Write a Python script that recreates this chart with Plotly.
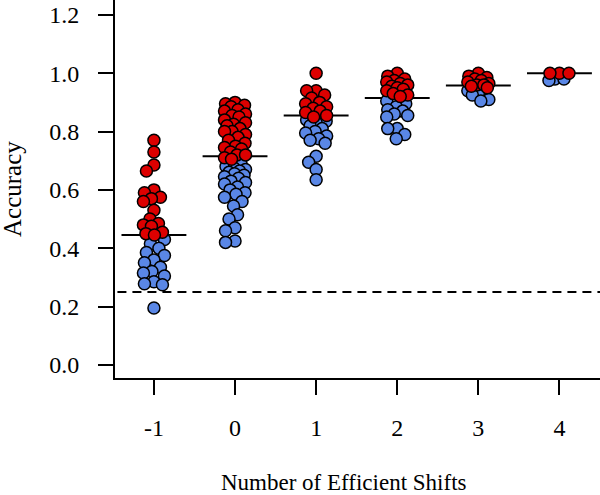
import plotly.graph_objects as go

# ---------------- data ----------------
groups = [-1, 0, 1, 2, 3, 4]
group_labels = ["-1", "0", "1", "2", "3", "4"]

red_values = {
    -1: [0.77, 0.73, 0.685, 0.665, 0.60, 0.59, 0.575, 0.57, 0.56, 0.53, 0.50,
         0.485, 0.48, 0.475, 0.455, 0.45, 0.445],
    0: [0.90, 0.895, 0.89, 0.885, 0.875, 0.87, 0.86, 0.855, 0.85, 0.84, 0.83,
        0.825, 0.82, 0.81, 0.80, 0.80, 0.79, 0.78, 0.77, 0.76, 0.75, 0.745,
        0.74, 0.73, 0.72, 0.72, 0.71, 0.705],
    1: [1.0, 0.94, 0.94, 0.925, 0.915, 0.90, 0.895, 0.885, 0.88, 0.87, 0.865,
        0.855, 0.85],
    2: [1.0, 0.99, 0.98, 0.975, 0.97, 0.965, 0.96, 0.955, 0.95, 0.945, 0.94,
        0.93, 0.925, 0.92],
    3: [1.0, 0.99, 0.985, 0.98, 0.975, 0.97, 0.965, 0.96, 0.96, 0.955, 0.95],
    4: [1.0, 1.0, 1.0],
}
blue_values = {
    -1: [0.43, 0.415, 0.40, 0.385, 0.375, 0.36, 0.35, 0.335, 0.32, 0.315,
         0.305, 0.285, 0.278, 0.275, 0.195],
    0: [0.69, 0.68, 0.675, 0.67, 0.665, 0.66, 0.655, 0.65, 0.645, 0.64, 0.63,
        0.625, 0.62, 0.61, 0.60, 0.59, 0.585, 0.575, 0.56, 0.545, 0.515, 0.50,
        0.47, 0.46, 0.425, 0.42],
    1: [0.845, 0.84, 0.835, 0.83, 0.82, 0.81, 0.80, 0.795, 0.785, 0.775, 0.77,
        0.76, 0.715, 0.695, 0.67, 0.635],
    2: [0.905, 0.895, 0.885, 0.875, 0.87, 0.86, 0.855, 0.85, 0.81, 0.81, 0.79,
        0.775],
    3: [0.95, 0.945, 0.94, 0.935, 0.93, 0.925, 0.91, 0.905],
    4: [0.98, 0.98, 0.975],
}
medians = [0.445, 0.715, 0.855, 0.915, 0.958, 1.0]
chance_level = 0.25

y_ticks = [0.0, 0.2, 0.4, 0.6, 0.8, 1.0, 1.2]
y_tick_text = ["0.0", "0.2", "0.4", "0.6", "0.8", "1.0", "1.2"]

# ---------------- layout geometry ----------------
W, H = 600, 495
M_L, M_R, M_T, M_B = 115, 0, 0, 117
X_RANGE = [-1.48, 4.50]
Y_RANGE = [-0.045, 1.251]
px_per_x = (W - M_L - M_R) / (X_RANGE[1] - X_RANGE[0])
px_per_y = (H - M_T - M_B) / (Y_RANGE[1] - Y_RANGE[0])


def swarm_offsets(vals, half_width_px=10.5, target_px=9.5, step=0.5):
    """Deterministic bounded beeswarm: x offsets (data units) per value."""
    order = sorted(range(len(vals)), key=lambda i: -vals[i])
    n = int(round(2 * half_width_px / step))
    cands = [-half_width_px + k * step for k in range(n + 1)]
    placed = []
    offs = [0.0] * len(vals)
    for i in order:
        y = vals[i] * px_per_y
        best, best_key = 0.0, None
        for c in cands:
            d = target_px
            for (px, py) in placed:
                dd = ((px - c) ** 2 + (py - y) ** 2) ** 0.5
                if dd < d:
                    d = dd
            key = (-round(d, 3), abs(c), c)
            if best_key is None or key < best_key:
                best_key, best = key, c
        placed.append((best, y))
        offs[i] = best / px_per_x
    return offs


bx, by, rx, ry = [], [], [], []
for g in groups:
    b = blue_values[g]
    r = red_values[g]
    offs = swarm_offsets(b + r)
    for k, v in enumerate(b):
        bx.append(g + offs[k])
        by.append(v)
    for k, v in enumerate(r):
        rx.append(g + offs[len(b) + k])
        ry.append(v)

BLUE = "#5A87E6"
RED = "#DD0000"
FONT = "Liberation Serif, Times New Roman, serif"

fig = go.Figure()
fig.add_trace(go.Scatter(
    x=bx, y=by, mode="markers",
    marker=dict(size=12, color=BLUE, line=dict(color="black", width=1.5)),
    showlegend=False, hoverinfo="y"))
fig.add_trace(go.Scatter(
    x=rx, y=ry, mode="markers",
    marker=dict(size=12, color=RED, line=dict(color="black", width=1.5)),
    showlegend=False, hoverinfo="y"))

for g, m in zip(groups, medians):
    fig.add_shape(type="line", x0=g - 0.4, x1=g + 0.4, y0=m, y1=m,
                  xref="x", yref="y", layer="below",
                  line=dict(color="black", width=2))

fig.add_shape(type="line", x0=0.005, x1=1, y0=chance_level, y1=chance_level,
              xref="paper", yref="y", layer="below",
              line=dict(color="black", width=2, dash="9px,6px"))

axis_common = dict(showgrid=False, zeroline=False, showline=True,
                   linecolor="black", linewidth=2, ticks="outside", ticklen=15,
                   tickwidth=2, tickcolor="black", automargin=False,
                   tickfont=dict(family=FONT, size=24))

fig.update_layout(
    width=W, height=H,
    margin=dict(l=M_L, r=M_R, t=M_T, b=M_B),
    paper_bgcolor="white", plot_bgcolor="white",
    font=dict(family=FONT, size=23, color="black"),
    xaxis=dict(range=X_RANGE, tickvals=groups, ticktext=group_labels,
               ticklabelstandoff=12, **axis_common),
    yaxis=dict(range=Y_RANGE, tickvals=y_ticks, ticktext=y_tick_text,
               ticklabelstandoff=14, **axis_common),
    annotations=[
        dict(text="Number of Efficient Shifts", xref="paper", yref="paper",
             x=(344 - M_L) / (W - M_L - M_R), y=-(482 - (H - M_B)) / (H - M_T - M_B),
             showarrow=False, xanchor="center", yanchor="middle",
             font=dict(family=FONT, size=23)),
        dict(text="Accuracy", xref="paper", yref="paper",
             x=-(M_L - 12) / (W - M_L - M_R), y=0.5, textangle=-90,
             showarrow=False, xanchor="center", yanchor="middle",
             font=dict(family=FONT, size=25)),
    ],
)

fig.write_html(
    "out.html",
    config={"displayModeBar": False},
    post_script="document.body.style.margin='0';document.body.style.overflow='hidden';",
)
